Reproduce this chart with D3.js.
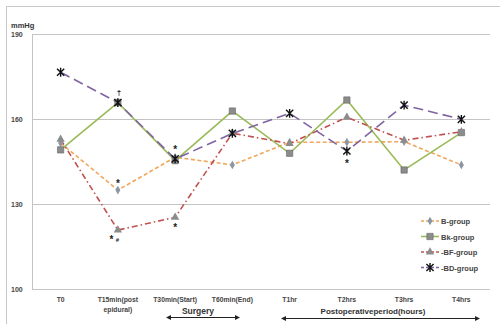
<!DOCTYPE html>
<html><head><meta charset="utf-8">
<script src="https://cdn.jsdelivr.net/npm/d3@7"></script>
<style>body{margin:0;background:#fff}svg{display:block}text{font-family:"Liberation Sans",Arial,sans-serif}</style>
</head><body>
<svg id="c" width="500" height="324"></svg>
<script>
const categories = ["T0","T15min(post|epidural)","T30min(Start)","T60min(End)","T1hr","T2hrs","T3hrs","T4hrs"];
const yTicks = [100,130,160,190];
const bGroup  = [151.5,134.9,146.5,143.8,151.8,151.8,152.0,143.8];
const bkGroup = [149.1,165.8,145.3,162.8,147.9,166.7,142.0,155.2];
const bfGroup = [152.8,120.8,125.3,155.0,151.3,160.6,152.5,155.5];
const bdGroup = [176.5,165.8,145.9,154.9,162.0,148.7,164.9,159.9];
const seriesNames = ["B-group","Bk-group","BF-group","BD-group"];
const legendPrefix = ["","","-","-"];
const annotations = [
  {cat:1, v:165.8, t:"\u2020", dx:1, dy:-11, size:8, k:0.4},
  {cat:1, v:134.9, t:"*", dy:-9, size:10, k:0.55},
  {cat:1, v:120.8, t:"*", dx:-6.5, dy:7.5, size:10, k:0.55},
  {cat:1, v:120.8, t:"#", dx:-0.5, dy:10, size:6, k:0.35},
  {cat:2, v:146.5, t:"*", dy:-10, size:10, k:0.55},
  {cat:2, v:125.3, t:"*", dy:8, size:10, k:0.55},
  {cat:5, v:148.7, t:"*", dy:10, size:10, k:0.55}
];

const svg = d3.select("#c");
const x = d3.scaleBand().domain(categories).range([32,490]).padding(0);
const y = d3.scaleLinear().domain([100,190]).range([289,34]);
const cx = c => x(c) + x.bandwidth()/2;

// outer border
svg.append("rect").attr("x",6.5).attr("y",6.5).attr("width",520).attr("height",340)
  .attr("fill","none").attr("stroke","#c8c8c8");

// gridlines
svg.selectAll(".grid").data(yTicks).enter().append("line")
  .attr("x1",32).attr("x2",490).attr("y1",d=>y(d)+0.5).attr("y2",d=>y(d)+0.5)
  .attr("stroke","#c4c4c4").attr("stroke-width",1);
svg.append("line").attr("x1",32.5).attr("x2",32.5).attr("y1",y(190)).attr("y2",y(100))
  .attr("stroke","#c4c4c4");

// y tick labels
svg.selectAll(".yl").data(yTicks).enter().append("text")
  .attr("x",11).attr("y",d=>y(d)+3).attr("font-size",7).attr("font-weight","bold")
  .attr("fill","#444").text(d=>d);
svg.append("text").attr("x",11).attr("y",28).attr("font-size",7.5).attr("font-weight","bold")
  .attr("fill","#333").text("mmHg");

// x labels
categories.forEach(c=>{
  const parts = c.split("|");
  const t = svg.append("text").attr("x",cx(c)).attr("y",302).attr("text-anchor","middle")
    .attr("font-size",6.8).attr("font-weight","bold").attr("fill","#444");
  parts.forEach((p,i)=>t.append("tspan").attr("x",cx(c)).attr("dy",i?10:0).text(p));
});

// period arrows
function arrow(x1,x2,yy){
  svg.append("line").attr("x1",x1+3).attr("x2",x2-3).attr("y1",yy).attr("y2",yy).attr("stroke","#222").attr("stroke-width",1);
  svg.append("path").attr("d",`M${x1},${yy}L${x1+5},${yy-2.5}L${x1+5},${yy+2.5}Z`).attr("fill","#222");
  svg.append("path").attr("d",`M${x2},${yy}L${x2-5},${yy-2.5}L${x2-5},${yy+2.5}Z`).attr("fill","#222");
}
arrow(166,240,317.5);
arrow(281,480,318.5);
svg.append("text").attr("x",198).attr("y",314).attr("text-anchor","middle").attr("font-size",8.5)
  .attr("font-weight","bold").attr("fill","#333").text("Surgery");
svg.append("text").attr("x",373).attr("y",314).attr("text-anchor","middle").attr("font-size",8)
  .attr("font-weight","bold").attr("fill","#333").text("Postoperativeperiod(hours)");

const series = [
  {name:seriesNames[0], vals:bGroup,  color:"#f2a65a", dash:"4,2.5", marker:"diamond", mfill:"#8a96a6"},
  {name:seriesNames[1], vals:bkGroup, color:"#9bbb59", dash:null, marker:"square", mfill:"#8c8c8c"},
  {name:seriesNames[2], vals:bfGroup, color:"#c0504d", dash:"6,3,1.5,3", marker:"triangle", mfill:"#8c8c8c"},
  {name:seriesNames[3], vals:bdGroup, color:"#8064a2", dash:"10,5", marker:"star", mfill:"#000"}
];
const line = d3.line().x((d,i)=>cx(categories[i])).y(d=>y(d));

function drawMarker(g, type, px, py, fill){
  if(type==="star"){
    const s=3.6;
    g.append("path").attr("d",`M${px-s},${py-s}L${px+s},${py+s}M${px-s},${py+s}L${px+s},${py-s}M${px},${py-s-0.8}L${px},${py+s+0.8}`)
      .attr("stroke","#111").attr("stroke-width",1.4).attr("fill","none");
    return;
  }
  const sym = type==="diamond"? d3.symbolDiamond : type==="square"? d3.symbolSquare : d3.symbolTriangle;
  const size = type==="diamond"? 22 : type==="square"? 40 : 30;
  g.append("path").attr("d",d3.symbol().type(sym).size(size)())
    .attr("transform",`translate(${px},${py})`).attr("fill",fill)
    .attr("stroke",type==="square"?"#666":"none").attr("stroke-width",0.6);
}

series.forEach(s=>{
  svg.append("path").datum(s.vals).attr("d",line).attr("fill","none")
    .attr("stroke",s.color).attr("stroke-width",1.6).attr("stroke-dasharray",s.dash);
});
series.forEach(s=>{
  const g = svg.append("g");
  s.vals.forEach((v,i)=>drawMarker(g,s.marker,cx(categories[i]),y(v),s.mfill));
});

// annotations
annotations.forEach(a=>{
  svg.append("text").attr("x",cx(categories[a.cat])+(a.dx||0))
    .attr("y",y(a.v)+a.dy+a.k*a.size)
    .attr("text-anchor","middle").attr("font-size",a.size).attr("font-weight","bold")
    .attr("fill","#222").text(a.t);
});

// legend
series.forEach((s,i)=>{
  const ly = 221 + i*15.5;
  svg.append("line").attr("x1",421).attr("x2",439).attr("y1",ly).attr("y2",ly)
    .attr("stroke",s.color).attr("stroke-width",1.6).attr("stroke-dasharray",s.dash?"3,2":null);
  drawMarker(svg.append("g"),s.marker,430,ly,s.mfill);
  svg.append("text").attr("x",441).attr("y",ly+3).attr("font-size",7.5).attr("font-weight","bold")
    .attr("fill","#444").text(legendPrefix[i]+s.name);
});
</script>
</body></html>
